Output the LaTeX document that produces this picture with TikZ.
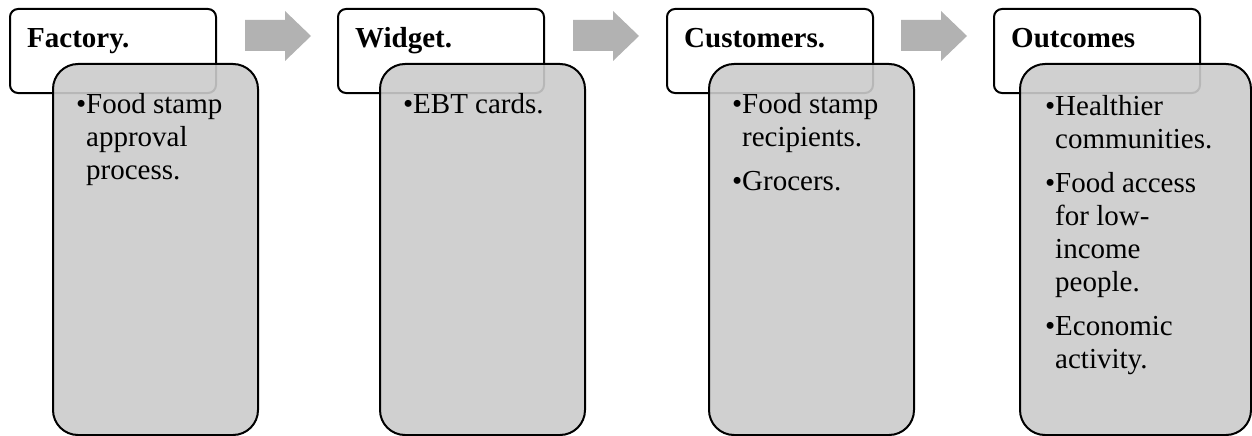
\documentclass[tikz,border=0pt]{standalone}
\usepackage{fontspec}
\setmainfont{Liberation Serif}
\definecolor{boxgray}{HTML}{CBCBCB}
\definecolor{arrowgray}{HTML}{B2B2B2}
\tikzset{
  headbox/.style={draw, line width=2pt, fill=white, rounded corners=8pt, minimum width=206pt, minimum height=84pt, anchor=north west, inner sep=0pt},
  itembox/.style={draw, line width=2pt, fill=boxgray, fill opacity=0.9, rounded corners=25pt, minimum width=205pt, minimum height=371pt, anchor=north west, inner sep=0pt},
  headtext/.style={anchor=base west, inner sep=0pt, font=\fontsize{29}{33}\selectfont\bfseries},
  itemtext/.style={anchor=north west, inner sep=0pt, align=left, font=\fontsize{29}{33}\selectfont},
}
\newcommand{\bul}{\makebox[10pt][l]{\textbullet}}
\newcommand{\ind}{\hspace*{10pt}}
\begin{document}
\begin{tikzpicture}[x=1pt,y=-1pt]
			\useasboundingbox (0,0) rectangle (1252,436);
			% header boxes
			\node[headbox] (fachead) at (9,8) {};
			\node[headbox] (widhead) at (337,8) {};
			\node[headbox] (cushead) at (666,8) {};
			\node[headbox] (outhead) at (993,8) {};
			\node[headtext] (factxt) at ([shift={(18,40)}]fachead.north west) {Factory.};
			\node[headtext] (widtxt) at ([shift={(18,40)}]widhead.north west) {Widget.};
			\node[headtext] (custxt) at ([shift={(18,40)}]cushead.north west) {Customers.};
			\node[headtext] (outtxt) at ([shift={(18,40)}]outhead.north west) {Outcomes};
			% block arrows
			\foreach \ax in {245,573,901}
				\fill[arrowgray] (\ax,20) -- (\ax+40,20) -- (\ax+40,11) -- (\ax+66,36) -- (\ax+40,61) -- (\ax+40,51) -- (\ax,51) -- cycle;
			% item boxes
			\node[itembox] (facbox) at (52,63) {};
			\node[itembox] (widbox) at (379,63) {};
			\node[itembox] (cusbox) at (708,63) {};
			\node[itembox, minimum width=231pt] (outbox) at (1019,63) {};
			\node[itemtext] (faclist) at ([shift={(24,30)}]facbox.north west)
				{\bul Food stamp\\ \ind approval\\ \ind process.};
			\node[itemtext] (widlist) at ([shift={(24,30)}]widbox.north west)
				{\bul EBT cards.};
			\node[itemtext] (cuslist) at ([shift={(24,30)}]cusbox.north west)
				{\bul Food stamp\\ \ind recipients.\\[11pt] \bul Grocers.};
			\node[itemtext] (outlist) at ([shift={(26,32)}]outbox.north west)
				{\bul Healthier\\ \ind communities.\\[11pt] \bul Food access\\ \ind for low-\\ \ind income\\ \ind people.\\[11pt] \bul Economic\\ \ind activity.};
		\end{tikzpicture}
\end{document}
